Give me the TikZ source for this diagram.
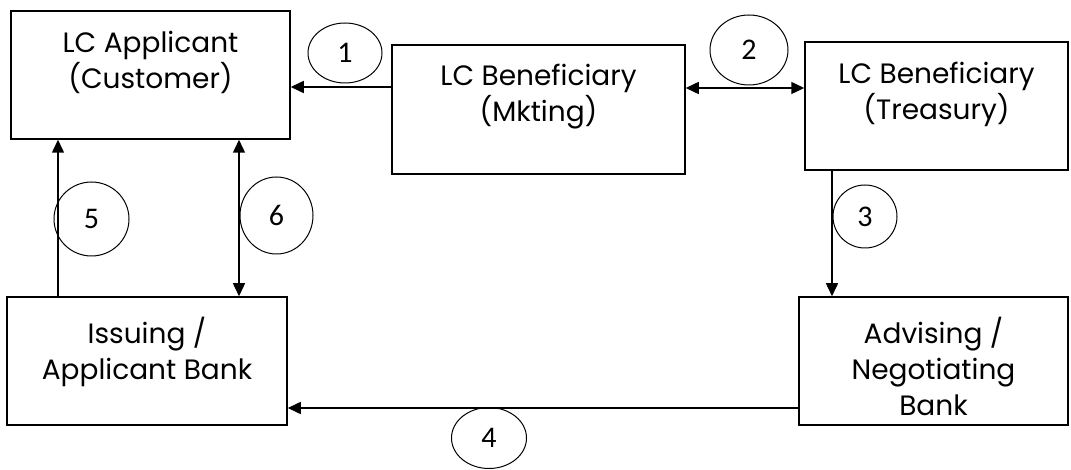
\documentclass[tikz,border=0pt]{standalone}
\usepackage{fontspec}
\setmainfont{Poppins}
\newfontfamily\numfont{Carlito}
\usetikzlibrary{arrows.meta,shapes.geometric}
\begin{document}
\begin{tikzpicture}[x=1pt,y=-1pt,
  box/.style={draw, rectangle, line width=1.5pt, inner sep=0pt, minimum height=128pt},
  lbl/.style={anchor=north, align=center, inner sep=0pt, font=\fontsize{28}{36}\selectfont},
  num/.style={draw, ellipse, line width=1pt, inner sep=0pt, font=\numfont\fontsize{30}{30}\selectfont},
  arr/.style={line width=1.5pt, -{Triangle[length=13pt,width=12pt]}},
  arrb/.style={line width=1.5pt, {Triangle[length=13pt,width=12pt]}-{Triangle[length=13pt,width=12pt]}}
]
\useasboundingbox (0,0) rectangle (1071,470);
% boxes
\node[box, minimum width=279pt] (A) at (150.5,75) {};
\node[box, minimum width=293pt, minimum height=129pt] (B) at (538.5,109.5) {};
\node[box, minimum width=263pt] (C) at (936.5,106) {};
\node[box, minimum width=280pt] (D) at (147,361) {};
\node[box, minimum width=269pt] (E) at (933.5,361) {};
% texts
\node[lbl] (At) at (150.5,31) {LC Applicant\\(Customer)};
\node[lbl] (Bt) at (538.5,64) {LC Beneficiary\\(Mkting)};
\node[lbl] (Ct) at (936.5,62) {LC Beneficiary\\(Treasury)};
\node[lbl] (Dt) at (147,317) {Issuing /\\Applicant Bank};
\node[lbl] (Et) at (933.5,317) {Advising /\\Negotiating\\Bank};
% numbered circles
\node[num, minimum width=74pt, minimum height=60pt] (n1) at (345,53) {1};
\node[num, minimum width=78pt, minimum height=70pt] (n2) at (749,50) {2};
\node[num, minimum width=64pt, minimum height=63pt] (n3) at (865,216.5) {3};
\node[num, minimum width=75pt, minimum height=61pt] (n4) at (489,438) {4};
\node[num, minimum width=75pt, minimum height=74pt] (n5) at (91.5,219) {5};
\node[num, minimum width=73pt, minimum height=77pt] (n6) at (276.5,215.5) {6};
% connectors
\draw[arr] (B.west |- 0,87) -- (A.east |- 0,87);
\draw[arrb] (B.east |- 0,88) -- (C.west |- 0,88);
\draw[arr] (C.south -| 832,0) -- (E.north -| 832,0);
\draw[arr] (E.west |- 0,408) -- (D.east |- 0,408);
\draw[arr] (D.north -| 58,0) -- (A.south -| 58,0);
\draw[arrb] (A.south -| 239,0) -- (D.north -| 239,0);
\end{tikzpicture}
\end{document}
